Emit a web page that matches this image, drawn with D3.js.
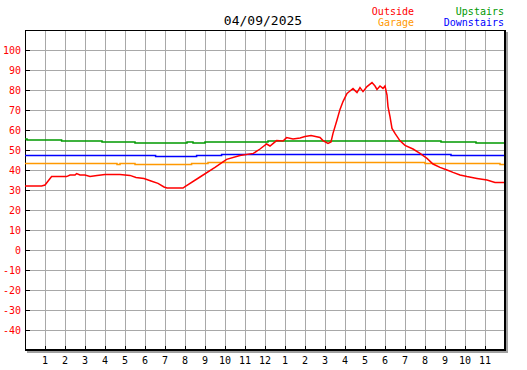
<!DOCTYPE html>
<html>
<head>
<meta charset="utf-8">
<script src="https://cdn.jsdelivr.net/npm/d3@7"></script>
<style>
  body { margin: 0; background: #fff; }
  text { font-family: "DejaVu Sans Mono", "Liberation Mono", monospace; }
</style>
</head>
<body>
<div id="chart"></div>
<script>
// readings, hours since midnight
const outsideHours = [0, 0.83, 1.0, 1.33, 2.08, 2.25, 2.5, 2.58, 2.75, 3.0, 3.25, 3.6, 4.0, 4.75, 5.25, 5.55, 5.95, 6.3, 6.65, 6.95, 7.1, 7.9, 8.0, 8.75, 9.5, 10.08, 10.75, 11.42, 11.75, 12.08, 12.25, 12.58, 12.9, 13.08, 13.4, 13.75, 14.0, 14.3, 14.75, 14.9, 15.15, 15.3, 15.4, 15.6, 15.75, 15.9, 16.1, 16.25, 16.4, 16.6, 16.75, 16.9, 17.1, 17.35, 17.5, 17.6, 17.75, 17.9, 18.0, 18.1, 18.15, 18.25, 18.35, 18.5, 18.75, 19.0, 19.4, 19.75, 20.1, 20.4, 20.75, 21.1, 21.4, 21.75, 22.1, 22.6, 23.1, 23.5, 23.95];
const outsideTemps = [32, 32, 32.5, 36.7, 36.7, 37.5, 37.5, 38.2, 37.5, 37.5, 36.8, 37.3, 37.8, 37.8, 37.3, 36.3, 35.7, 34.5, 33.3, 31.5, 31, 31, 31.7, 36.5, 41.3, 45.3, 47.2, 48.3, 50.5, 53, 52, 54.7, 54.5, 56.2, 55.5, 56, 56.7, 57.2, 56.3, 54.7, 53.3, 54, 58.3, 65, 70.3, 74.2, 78.3, 79.5, 80.7, 78.7, 81.2, 79.2, 81.7, 83.7, 82, 80.3, 82, 80.8, 82, 77.5, 71.7, 66.7, 60.8, 58.3, 54.6, 52.3, 50.5, 48.3, 45.8, 43, 41.3, 40, 38.8, 37.5, 36.7, 35.8, 35, 33.8, 33.8];

const upstairsHours = [0, 0.1, 1.83, 3.85, 5.5, 8.1, 8.4, 9.0, 12.15, 20.8, 22.55, 23.95];
const upstairsTemps = [55.5, 55, 54.5, 54, 53.5, 54, 53.5, 54, 54.5, 54, 53.5, 53.5];

const garageHours = [0, 4.6, 4.75, 5.5, 8.33, 9.15, 20.0, 23.75, 23.95];
const garageTemps = [43.3, 42.8, 43.3, 42.8, 43.3, 43.8, 43.3, 42.8, 42.8];

const downstairsHours = [0, 6.53, 8.58, 9.83, 21.3, 23.95];
const downstairsTemps = [47.3, 46.8, 47.3, 47.8, 47.3, 47.3];

const yTicks = [-40, -30, -20, -10, 0, 10, 20, 30, 40, 50, 60, 70, 80, 90, 100];
const hourLabels = ["1","2","3","4","5","6","7","8","9","10","11","12","1","2","3","4","5","6","7","8","9","10","11"];
const title = "04/09/2025";

const width = 527, height = 370;
const margin = {top: 30, right: 22, bottom: 20, left: 25};

const svg = d3.select("#chart").append("svg")
  .attr("width", width).attr("height", height)
  .style("display", "block");

svg.append("rect").attr("width", width).attr("height", height).attr("fill", "#fff");

const x = d3.scaleLinear().domain([0, 24]).range([margin.left, width - margin.right]);
const y = d3.scaleLinear().domain([-50, 110]).range([height - margin.bottom, margin.top]);

// grid
const grid = svg.append("g").attr("shape-rendering", "crispEdges");
grid.selectAll("line.v").data(d3.range(1, 24)).join("line")
  .attr("x1", d => x(d) + 0.5).attr("x2", d => x(d) + 0.5)
  .attr("y1", y(110)).attr("y2", y(-50))
  .attr("stroke", "#a8a8a8");
grid.selectAll("line.h").data(d3.range(-40, 110, 10)).join("line")
  .attr("x1", x(0)).attr("x2", x(24))
  .attr("y1", d => y(d) + 0.5).attr("y2", d => y(d) + 0.5)
  .attr("stroke", "#a8a8a8");

// shadow + frame
const frame = svg.append("g").attr("shape-rendering", "crispEdges");
frame.append("rect").attr("x", x(24) + 1).attr("y", y(110) + 2).attr("width", 2).attr("height", y(-50) - y(110) + 1).attr("fill", "#a0a0a0");
frame.append("rect").attr("x", x(0) + 2).attr("y", y(-50) + 1).attr("width", x(24) - x(0) + 1).attr("height", 2).attr("fill", "#a0a0a0");
frame.append("rect").attr("x", x(0)).attr("y", y(110))
  .attr("width", x(24) - x(0)).attr("height", y(-50) - y(110))
  .attr("fill", "none").attr("stroke", "#000");
frame.append("line").attr("x1", x(24)).attr("x2", x(24)).attr("y1", y(110)).attr("y2", y(-50) + 1).attr("stroke", "#000").attr("stroke-width", 2);
frame.append("line").attr("x1", x(0)).attr("x2", x(24) + 1).attr("y1", y(-50)).attr("y2", y(-50)).attr("stroke", "#000").attr("stroke-width", 2);

// y ticks + labels
frame.selectAll("line.yt").data(yTicks).join("line")
  .attr("x1", x(0)).attr("x2", x(0) + 5)
  .attr("y1", d => y(d) + 0.5).attr("y2", d => y(d) + 0.5)
  .attr("stroke", "#000");
svg.selectAll("text.yl").data(yTicks).join("text")
  .attr("x", x(0) - 4).attr("y", d => y(d) + 4)
  .attr("text-anchor", "end").attr("font-size", 10).attr("fill", "#ff0000")
  .text(d => d);

// x ticks + labels
frame.selectAll("line.xt").data(d3.range(1, 24)).join("line")
  .attr("x1", d => x(d) + 0.5).attr("x2", d => x(d) + 0.5)
  .attr("y1", y(-50) - 4).attr("y2", y(-50))
  .attr("stroke", "#000");
svg.selectAll("text.xl").data(hourLabels).join("text")
  .attr("x", (d, i) => x(i + 1)).attr("y", 364)
  .attr("text-anchor", "middle").attr("font-size", 10).attr("fill", "#000")
  .text(d => d);

// series
const stepLine = d3.line().x(d => x(d[0])).y(d => y(d[1])).curve(d3.curveStepAfter);
const plainLine = d3.line().x(d => x(d[0])).y(d => y(d[1]));

function drawSeries(hours, temps, color, gen) {
  svg.append("path")
    .datum(d3.zip(hours, temps))
    .attr("d", gen)
    .attr("fill", "none")
    .attr("stroke", color)
    .attr("stroke-width", 1.5);
}
drawSeries(garageHours, garageTemps, "#ff9900", stepLine);
drawSeries(downstairsHours, downstairsTemps, "#0000ff", stepLine);
drawSeries(upstairsHours, upstairsTemps, "#009900", stepLine);
drawSeries(outsideHours, outsideTemps, "#ff0000", plainLine);

// title + legend
svg.append("text").attr("x", 263).attr("y", 25).attr("text-anchor", "middle")
  .attr("font-size", 13).attr("fill", "#000").text(title);
const legend = [
  {name: "Outside", color: "#ff0000", lx: 414, ly: 15},
  {name: "Garage", color: "#ff9900", lx: 414, ly: 26},
  {name: "Upstairs", color: "#009900", lx: 504, ly: 15},
  {name: "Downstairs", color: "#0000ff", lx: 504, ly: 26}
];
svg.selectAll("text.lg").data(legend).join("text")
  .attr("x", d => d.lx).attr("y", d => d.ly)
  .attr("text-anchor", "end").attr("font-size", 10).attr("fill", d => d.color)
  .text(d => d.name);
</script>
</body>
</html>
